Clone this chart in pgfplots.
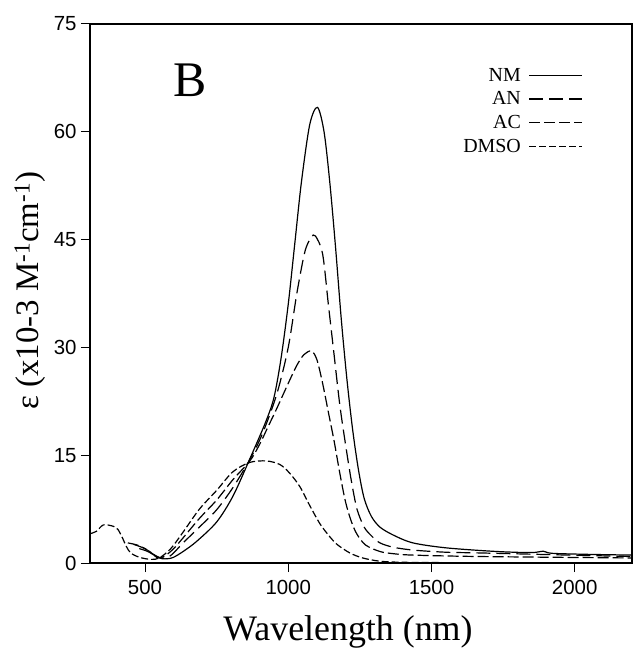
\documentclass[border=0pt]{standalone}
\usepackage{fontspec}
\setmainfont{Liberation Serif}
\newfontfamily\arialf{Liberation Sans}
\usepackage{pgfplots}
\pgfplotsset{compat=1.18}
\begin{document}
\begin{tikzpicture}
\begin{axis}[
  scale only axis, width=542bp, height=539bp,
  xmin=308, xmax=2200, ymin=0, ymax=75,
  xtick={500,1000,1500,2000}, ytick={0,15,30,45,60,75},
  xtick pos=bottom, ytick pos=left, tick align=outside,
  major tick length=9bp,
  axis line style={line width=1.1bp}, tick style={line width=1.0bp, black},
  /pgf/number format/assume math mode=true,
  /pgf/number format/set thousands separator={},
  tick label style={font=\arialf\fontsize{20.5}{20.5}\selectfont},
  yticklabel style={xshift=-1bp},
  xticklabel style={yshift=-5bp},
  xlabel={Wavelength (nm)},
  xlabel style={font=\fontsize{36}{36}\selectfont, at={(axis description cs:0.476,0)}, anchor=base, yshift=-77bp},
  ylabel={ε (x10-3 M\textsuperscript{-1}cm\textsuperscript{-1})},
  ylabel style={font=\fontsize{33}{33}\selectfont, at={(axis description cs:0,0.505)}, anchor=center, yshift=60bp, xshift=0bp},
  legend plot pos=right,
  legend cell align=right,
  legend style={draw=none, fill=none, at={(axis description cs:0.91,0.922)}, anchor=north east,
    font=\fontsize{20}{20}\selectfont, row sep=5bp, inner sep=0pt, column sep=6bp},
  legend image code/.code={\draw[#1] (0bp,0bp) -- (53bp,0bp);},
  clip=true,
]
% NM
\addplot[black, line width=1.2bp, smooth] coordinates {
(480,2.0) (510,1.6) (540,0.9) (560,0.6) (580,0.6) (600,0.8) (633,1.6) (680,3.0) (750,5.7) (807,9.3) (866,14.5) (920,19.5) (950,23) (975,28.5) (1000,36) (1023,44.5) (1046,53) (1075,61) (1102,63.4) (1125,60) (1145,53) (1165,44) (1185,34) (1205,25.5) (1225,18.5) (1245,13) (1265,9) (1290,6.5) (1320,5.0) (1366,3.9) (1435,2.8) (1553,2.1) (1728,1.6) (1850,1.45) (1890,1.65) (1920,1.35) (2050,1.2) (2200,1.1)};
\addlegendentry{NM}
% AN
\addplot[black, line width=1.2bp, dash pattern=on 14bp off 6bp, smooth] coordinates {
(460,2.6) (500,2.0) (530,1.2) (555,0.7) (580,0.8) (600,1.4) (633,2.8) (690,5.0) (750,7.4) (807,10.5) (866,14.4) (910,18) (960,23.5) (1000,30) (1030,37.5) (1058,43.3) (1080,45.3) (1095,45.5) (1120,43) (1140,36) (1160,29) (1180,22) (1200,16.5) (1220,11.5) (1240,7.5) (1265,5) (1290,3.8) (1320,2.8) (1366,2.2) (1435,1.8) (1550,1.5) (1669,1.4) (1980,1.1) (2200,0.9)};
\addlegendentry{AN}
% AC
\addplot[black, line width=1.2bp, dash pattern=on 11bp off 4bp, smooth] coordinates {
(440,2.8) (480,2.4) (520,1.5) (545,0.7) (570,1.0) (600,2.0) (633,3.5) (690,6.2) (750,8.75) (807,11.6) (866,14.2) (900,16.5) (930,19) (960,21.5) (1000,25) (1030,27.5) (1055,29) (1081,29.5) (1100,28.3) (1120,25) (1140,21) (1160,17) (1180,12.5) (1200,8.5) (1220,5.8) (1240,4) (1270,2.5) (1320,1.6) (1366,1.3) (1435,1.1) (1669,0.9) (2200,0.7)};
\addlegendentry{AC}
% DMSO
\addplot[black, line width=1.2bp, dash pattern=on 7bp off 3bp, smooth] coordinates {
(310,4.1) (330,4.4) (355,5.3) (390,5.1) (405,4.7) (420,3.6) (435,2.3) (450,1.4) (480,0.8) (520,0.5) (550,0.7) (590,2.0) (633,4.3) (690,7.5) (750,10.1) (807,12.7) (866,14.0) (924,14.2) (971,13.7) (1005,12.5) (1041,10.6) (1075,8.0) (1110,5.5) (1140,3.9) (1170,2.6) (1215,1.4) (1260,0.7) (1320,0.25) (1400,0.1) (1600,0.05) (2200,0.05)};
\addlegendentry{DMSO}
\node[font=\fontsize{50}{50}\selectfont] at (axis description cs:0.185,0.895) {B};
\end{axis}
\path ([xshift=-90bp,yshift=-91bp]current axis.south west) rectangle ([yshift=24bp]current axis.north east);
\end{tikzpicture}
\end{document}
